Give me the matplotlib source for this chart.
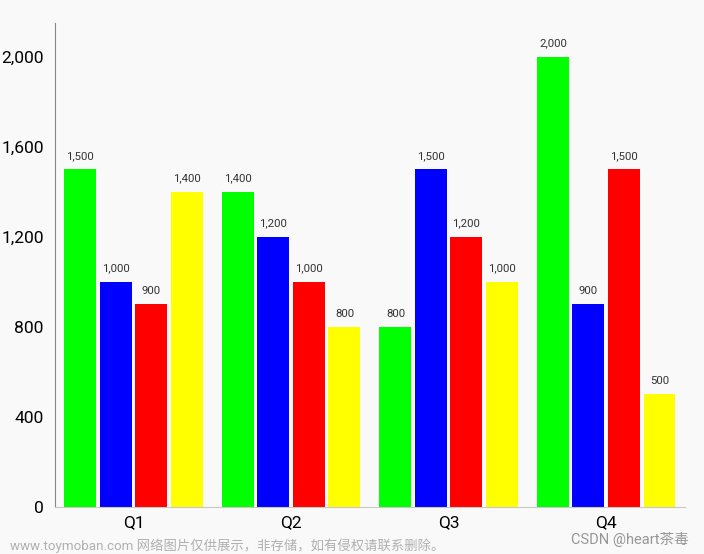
import numpy as np
import matplotlib.pyplot as plt
from matplotlib.ticker import FuncFormatter

plt.rcParams['font.family'] = ['Roboto', 'Noto Sans CJK SC', 'DejaVu Sans']

QUARTERS = ['Q1', 'Q2', 'Q3', 'Q4']
SERIES_COLORS = ['#00ff00', '#0000ff', '#ff0000', '#ffff00']
VALUES = [
    [1500, 1400, 800, 2000],   # green
    [1000, 1200, 1500, 900],   # blue
    [900, 1000, 1200, 1500],   # red
    [1400, 800, 1000, 500],    # yellow
]
Y_TICKS = [0, 400, 800, 1200, 1600, 2000]

BG = '#f9f9f9'
PITCH = 0.2254
WIDTH = 0.203

fig = plt.figure(figsize=(7.04, 5.54), dpi=100, facecolor=BG)
ax = fig.add_axes([0.078, 0.0848, 0.895, 0.8737], facecolor=BG)

x = np.arange(len(QUARTERS))
for i, (vals, color) in enumerate(zip(VALUES, SERIES_COLORS)):
    offs = (i - 1.5) * PITCH
    bars = ax.bar(x + offs, vals, width=WIDTH, color=color, linewidth=0)
    for b, v in zip(bars, vals):
        ax.annotate(f'{v:,}', (b.get_x() + b.get_width() / 2, v),
                    xytext=(0, 6), textcoords='offset points',
                    ha='center', va='bottom', fontsize=8.2, color='#333333')

ax.set_xlim(-0.5, 3.5)
ax.set_ylim(0, 2150)
ax.set_xticks(x)
ax.set_xticklabels(QUARTERS, fontsize=12.5)
ax.set_yticks(Y_TICKS)
ax.yaxis.set_major_formatter(FuncFormatter(lambda v, p: f'{int(v):,}'))
ax.tick_params(axis='y', labelsize=12.5, length=0, pad=8)
ax.tick_params(axis='x', length=0, pad=6)

for s in ['top', 'right']:
    ax.spines[s].set_visible(False)
ax.spines['left'].set_color('#888888')
ax.spines['bottom'].set_color('#c8c8c8')

# watermarks
fig.text(0.014, 0.002, 'www.toymoban.com 网络图片仅供展示，非存储，如有侵权请联系删除。',
         fontsize=9.6, color='#b0b0b0', ha='left', va='bottom')
fig.text(0.978, 0.012, 'CSDN @heart茶毒', fontsize=10.5, color='#8c8c8c',
         ha='right', va='bottom', alpha=0.9)

plt.savefig('out.png', dpi=100, facecolor=BG)
